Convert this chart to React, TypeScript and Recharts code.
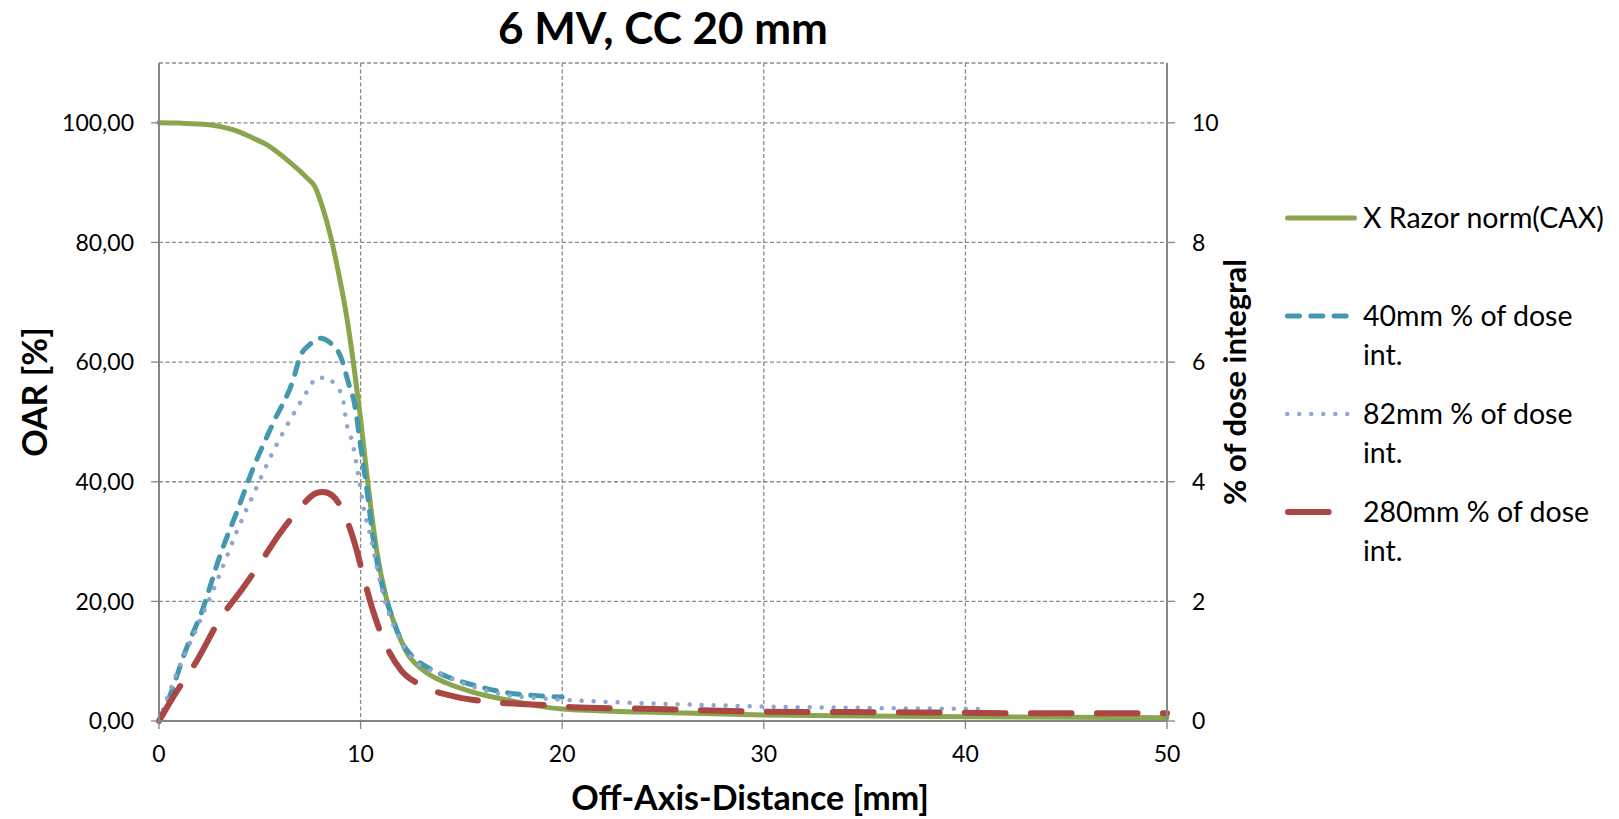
import React from 'react';
import { LineChart, Line, XAxis, YAxis, CartesianGrid, Label } from 'recharts';

const FONT = 'Lato, "Open Sans", sans-serif';

// X Razor profile, normalised to CAX (left axis, OAR %)
const razorMm = [0, 1, 2, 3, 3.7, 4.5, 5.36, 6.35, 7.34, 7.74, 8.1, 8.5, 8.9, 9.3, 9.64, 10.0, 10.3, 10.55, 10.8, 11.3, 11.8, 12.3, 13.1, 14.3, 15.6, 17.3, 20, 24, 30, 35, 40, 45, 50];
const razorOar = [100, 99.95, 99.8, 99.4, 98.8, 97.7, 96.3, 93.8, 90.8, 89.3, 86, 81.2, 75, 67.8, 60, 50.5, 41.5, 34.5, 28.5, 20.2, 15.2, 11.4, 8.5, 6.3, 4.8, 3.5, 2.0, 1.5, 1.0, 0.85, 0.72, 0.62, 0.55];

// share of dose integral per mm (right axis, %)
const int40Mm = [0, 0.65, 1.2, 2.2, 3.0, 3.9, 4.7, 5.66, 6.65, 7.0, 7.5, 8.0, 8.5, 9.0, 9.4, 9.7, 10.0, 10.3, 10.6, 11.0, 11.5, 12.0, 12.6, 13.3, 14.3, 15.6, 17.3, 18.9, 20];
const int40Pct = [0, 0.52, 1.07, 1.9, 2.74, 3.53, 4.25, 4.98, 5.7, 6.09, 6.3, 6.4, 6.32, 6.1, 5.65, 5.3, 4.6, 3.9, 3.1, 2.36, 1.8, 1.35, 1.07, 0.9, 0.74, 0.6, 0.47, 0.42, 0.4];

const int82Mm = [0, 1.0, 1.9, 2.9, 3.9, 4.7, 5.7, 6.5, 7.5, 7.8, 8.3, 8.8, 9.1, 9.3, 9.6, 9.9, 10.2, 10.5, 10.8, 11.3, 11.8, 12.8, 13.9, 15.6, 17.3, 18.9, 20.3, 23.7, 25.8, 30.2, 34.6, 39, 41];
const int82Pct = [0, 0.9, 1.57, 2.36, 3.2, 3.8, 4.53, 5.03, 5.59, 5.74, 5.74, 5.59, 5.42, 4.98, 4.65, 4.08, 3.48, 3.08, 2.58, 1.9, 1.47, 0.97, 0.8, 0.57, 0.43, 0.38, 0.35, 0.3, 0.28, 0.24, 0.22, 0.205, 0.2];

const int280Mm = [0, 0.7, 1.9, 3.0, 4.2, 4.9, 6.0, 6.8, 7.8, 8.1, 8.4, 9.1, 9.8, 10.1, 10.6, 11.0, 12.0, 13.0, 14.8, 16.4, 18.9, 20.5, 23.6, 26.6, 30, 33.2, 36.4, 39.7, 42.8, 46, 50];
const int280Pct = [0, 0.4, 1.02, 1.69, 2.24, 2.58, 3.14, 3.48, 3.81, 3.83, 3.81, 3.53, 2.86, 2.47, 1.86, 1.47, 0.85, 0.6, 0.4, 0.32, 0.27, 0.23, 0.207, 0.184, 0.156, 0.15, 0.145, 0.14, 0.128, 0.13, 0.128];

const xTicks = [0, 10, 20, 30, 40, 50];
const oarTicks = [0, 20, 40, 60, 80, 100];
const doseTicks = [0, 2, 4, 6, 8, 10];

const toPoints = (mm: number[], vals: number[]) => mm.map((x, i) => ({ mm: x, v: vals[i] }));

type Series = {
  key: string;
  label: string[];
  axis: 'left' | 'right';
  color: string;
  width: number;
  dash?: string;
  data: { mm: number; v: number }[];
};

const SERIES: Series[] = [
  { key: 'razor', label: ['X Razor norm(CAX)'], axis: 'left', color: '#89A54E', width: 5, data: toPoints(razorMm, razorOar) },
  { key: 'i40', label: ['40mm % of dose', 'int.'], axis: 'right', color: '#4198AF', width: 5, dash: '12 11.3', data: toPoints(int40Mm, int40Pct) },
  { key: 'i82', label: ['82mm % of dose', 'int.'], axis: 'right', color: '#8FA6D0', width: 4.5, dash: '0.01 12', data: toPoints(int82Mm, int82Pct) },
  { key: 'i280', label: ['280mm % of dose', 'int.'], axis: 'right', color: '#AA4643', width: 6, dash: '40.7 25.3', data: toPoints(int280Mm, int280Pct) },
];

const AXIS = '#868686';
const tickStyle = { fontSize: 23, fill: '#000', fontFamily: FONT };
const fmtOar = (v: number) => v.toFixed(2).replace('.', ',');

const LegendBlock = () => (
  <div style={{ position: 'absolute', left: 1285, top: 197.5, fontFamily: FONT }}>
    {SERIES.map((s) => (
      <div key={s.key} style={{ position: 'relative', height: 98, width: 330 }}>
        <svg width={76} height={12} style={{ position: 'absolute', left: 0, top: 14.5 }}>
          <line
            x1={s.width / 2}
            x2={72 - s.width / 2 - (s.key === 'i280' ? 0.5 : 0)}
            y1={6}
            y2={6}
            stroke={s.color}
            strokeWidth={s.width}
            strokeDasharray={s.dash}
            strokeLinecap="round"
          />
        </svg>
        <div style={{ position: 'absolute', left: 78, top: 0, fontSize: 28.5, lineHeight: '39px', color: '#000', whiteSpace: 'nowrap' }}>
          {s.label.map((t) => (
            <div key={t}>{t}</div>
          ))}
        </div>
      </div>
    ))}
  </div>
);

export default function App() {
  return (
    <div style={{ position: 'absolute', left: 0, top: 0, width: 1619, height: 819, background: '#fff', fontFamily: FONT }}>
      <div
        style={{
          position: 'absolute', left: 0, top: 1, width: 1326, textAlign: 'center',
          fontSize: 44, fontWeight: 700, lineHeight: '52.8px', color: '#000',
        }}
      >
        6 MV, CC 20 mm
      </div>
      <LineChart width={1619} height={819} margin={{ top: 63, right: 316, bottom: 38, left: 14 }} style={{ fontFamily: FONT }}>
        <CartesianGrid yAxisId="left" stroke="#8a8a8a" strokeWidth={1.3} strokeDasharray="4 2.5" />
        <XAxis
          dataKey="mm"
          type="number"
          domain={[0, 50]}
          ticks={xTicks}
          height={60}
          tickSize={8}
          tickMargin={17}
          tick={tickStyle}
          axisLine={{ stroke: AXIS, strokeWidth: 2 }}
          tickLine={{ stroke: AXIS, strokeWidth: 1.3 }}
        >
          <Label value="Off-Axis-Distance [mm]" position="bottom" offset={5} dx={87} style={{ fontSize: 34, fontWeight: 700, fill: '#000', fontFamily: FONT }} />
        </XAxis>
        <YAxis
          yAxisId="left"
          orientation="left"
          width={145}
          domain={[0, 110]}
          ticks={oarTicks}
          tickFormatter={fmtOar}
          tickSize={8}
          tickMargin={17}
          tick={tickStyle}
          axisLine={{ stroke: AXIS, strokeWidth: 2 }}
          tickLine={{ stroke: AXIS, strokeWidth: 1.3 }}
        >
          <Label value="OAR [%]" angle={-90} position="center" dx={-52} style={{ fontSize: 34, fontWeight: 700, fill: '#000', fontFamily: FONT, textAnchor: 'middle' }} />
        </YAxis>
        <YAxis
          yAxisId="right"
          orientation="right"
          width={136}
          domain={[0, 11]}
          ticks={doseTicks}
          tickSize={8}
          tickMargin={17}
          tick={tickStyle}
          axisLine={{ stroke: AXIS, strokeWidth: 2 }}
          tickLine={{ stroke: AXIS, strokeWidth: 1.3 }}
        >
          <Label value="% of dose integral" angle={-90} position="center" dy={-10} style={{ fontSize: 31, fontWeight: 700, fill: '#000', fontFamily: FONT, textAnchor: 'middle' }} />
        </YAxis>
        {SERIES.map((s) => (
          <Line
            key={s.key}
            yAxisId={s.axis}
            data={s.data}
            dataKey="v"
            name={s.label.join(' ')}
            type="monotone"
            stroke={s.color}
            strokeWidth={s.width}
            strokeDasharray={s.dash}
            strokeLinecap="round"
            dot={false}
            activeDot={false}
            isAnimationActive={false}
          />
        ))}
      </LineChart>
      <LegendBlock />
    </div>
  );
}
